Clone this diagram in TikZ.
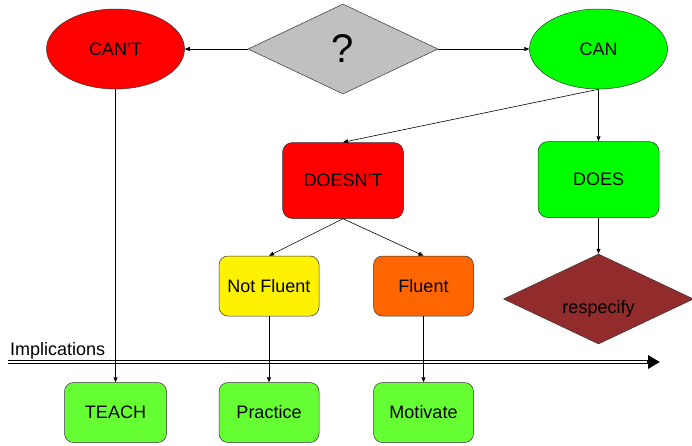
\documentclass[tikz,border=0pt]{standalone}
\usepackage{fontspec}
\setmainfont{Liberation Sans}
\usetikzlibrary{shapes.geometric, arrows.meta, positioning}
\definecolor{CanGreen}{HTML}{00FF00}
\definecolor{ActGreen}{HTML}{66FF33}
\definecolor{CantRed}{HTML}{FF0000}
\definecolor{AskGray}{HTML}{C0C0C0}
\definecolor{FluentOrange}{HTML}{FF6600}
\definecolor{RespecRed}{HTML}{922B2B}

\begin{document}
\begin{tikzpicture}[x=1pt, y=-1pt, >={Triangle[length=5pt,width=4pt]},
        txt/.style={font=\fontsize{18pt}{20pt}\selectfont},
        oval/.style={ellipse, draw=black!80, line width=0.5pt, minimum width=138pt, minimum height=80pt, inner sep=0pt, txt},
        choice/.style={diamond, draw=black!80, line width=0.5pt, minimum width=190pt, minimum height=90pt, inner sep=0pt, aspect=2.1},
        bigbox/.style={rectangle, draw=black!80, line width=0.5pt, rounded corners=10pt, minimum width=121pt, minimum height=76pt, txt},
        smallbox/.style={rectangle, draw=black!80, line width=0.5pt, rounded corners=9pt, minimum width=100pt, minimum height=60pt, txt},
        arrow/.style={->, line width=0.6pt, black}]
        \useasboundingbox (0,0) rectangle (692,445);

        \node[choice, fill=AskGray, font=\fontsize{40pt}{44pt}\selectfont] (quest) at (343,49) {?};
        \node[oval, fill=CantRed, left=63pt of quest] (cant) {CAN’T};
        \node[oval, fill=CanGreen, right=91pt of quest] (can) {CAN};
        \node[bigbox, fill=CantRed, below=48pt of quest] (doesnt) {DOESN’T};
        \node[bigbox, fill=CanGreen, below=52pt of can] (does) {DOES};
        \node[smallbox, fill=yellow, below=37pt of doesnt, xshift=-74pt] (notfluent) {Not Fluent};
        \node[smallbox, fill=FluentOrange, right=54pt of notfluent] (fluent) {Fluent};
        \node[choice, fill=RespecRed, below=36pt of does, label={[txt, yshift=-10pt]center:respecify}] (respecify) {};
        \node[smallbox, fill=ActGreen, below=66pt of notfluent] (practice) {Practice};
        \node[smallbox, fill=ActGreen, below=66pt of fluent] (motivate) {Motivate};
        \node[smallbox, fill=ActGreen, minimum width=102pt] (teach) at (cant |- practice) {TEACH};

        % implications line
        \coordinate (impstart) at (8,362);
        \coordinate (impend) at (660,362);
        \node[txt, anchor=south west, inner sep=0pt] (implications) at (10,359) {Implications};
        \draw[line width=4.6pt, -{Triangle[length=12pt,width=13pt]}] (impstart) -- (impend);
        \draw[white, line width=1.2pt] (impstart) -- ([xshift=-13pt]impend);

        \draw[arrow] (quest.west) -- (cant.east);
        \draw[arrow] (quest.east) -- (can.west);
        \draw[arrow] (can.south) -- (doesnt.north);
        \draw[arrow] (can) -- (does);
        \draw[arrow] (does) -- (respecify);
        \draw[arrow] (doesnt.south) -- (notfluent.north);
        \draw[arrow] (doesnt.south) -- (fluent.north);
        \draw[arrow] (cant) -- (teach);
        \draw[arrow] (notfluent) -- (practice);
        \draw[arrow] (fluent) -- (motivate);
    \end{tikzpicture}
\end{document}
